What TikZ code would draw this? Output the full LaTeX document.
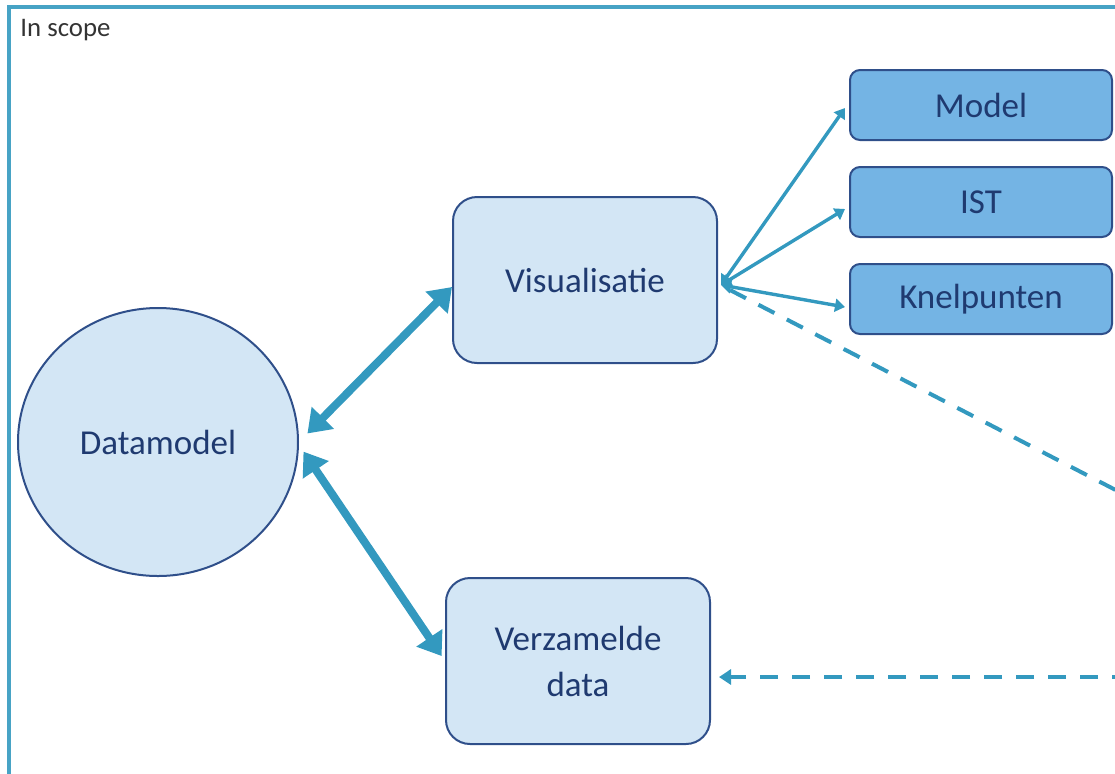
\documentclass[tikz,border=0pt]{standalone}
\usepackage{fontspec}
\setmainfont{Carlito}
\usetikzlibrary{positioning,arrows.meta,shapes.geometric,calc}

\definecolor{lichtblauw}{HTML}{D3E6F5}
\definecolor{middenblauw}{HTML}{74B4E4}
\definecolor{randblauw}{HTML}{2F4F8A}
\definecolor{pijlblauw}{HTML}{3399BF}
\definecolor{tekstblauw}{HTML}{1F3A70}

\tikzset{
  kern/.style={draw=randblauw,line width=1pt,fill=lichtblauw,text=tekstblauw,
    rounded corners=12pt,minimum width=132pt,minimum height=83pt,align=center},
  uitvoer/.style={draw=randblauw,line width=1pt,fill=middenblauw,text=tekstblauw,
    rounded corners=5pt,minimum width=131pt,minimum height=35pt},
  dik/.style={pijlblauw,line width=4pt,{Triangle[length=11pt,width=15pt]}-{Triangle[length=11pt,width=15pt]}},
  dun/.style={pijlblauw,line width=1.7pt,{Triangle[length=5pt,width=6.5pt]}-{Triangle[length=5pt,width=6.5pt]}},
  streep/.style={pijlblauw,line width=2pt,dash pattern=on 9pt off 7pt}
}

\begin{document}
\begin{tikzpicture}[x=0.5pt,y=-0.5pt,font=\fontsize{17.5}{23}\selectfont]
\useasboundingbox (0,0) rectangle (1115,773);
\clip (0,0) rectangle (1115,773);
\draw[pijlblauw!90!white,line width=1.6pt] (9,7) rectangle (1140,800);
\node (scope) [anchor=north west,text=black!80,font=\fontsize{13.4}{16}\selectfont,inner sep=0pt] at (20,19) {In scope};

\node (dm) [ellipse,draw=randblauw,line width=1pt,fill=lichtblauw,text=tekstblauw,
  minimum width=140pt,minimum height=134pt] at (158,442) {Datamodel};
\node (vis) [kern] at (585,280) {Visualisatie};
\node (ver) [kern] at (578,661) {Verzamelde\\data};

\node (model) [uitvoer] at (981,105) {Model};
\node (ist) [uitvoer,below=12.5pt of model] {IST};
\node (knel) [uitvoer,below=12.5pt of ist] {Knelpunten};

\coordinate (uitA) at (1160,513);
\coordinate (uitB) at (1130,677);

\draw[dik,shorten <=6pt] (dm.east) -- ($(vis.west)+(0,7)$);
\draw[dik,shorten <=4pt,shorten >=3pt] ($(dm.east)+(0,3)$) -- (ver.west);
\draw[dun] ($(vis.east)+(3,5)$) -- ($(model.west)+(-4,3)$);
\draw[dun] ($(vis.east)+(3,5)$) -- ($(ist.west)+(-4,7)$);
\draw[dun] ($(vis.east)+(3,5)$) -- ($(knel.west)+(-4,8)$);
\draw[streep] ($(vis.east)+(12,10)$) -- (uitA);
\draw[streep,-{Triangle[length=6pt,width=7.5pt]}] (uitB) -- ($(ver.east)+(8,16)$);
\end{tikzpicture}
\end{document}
